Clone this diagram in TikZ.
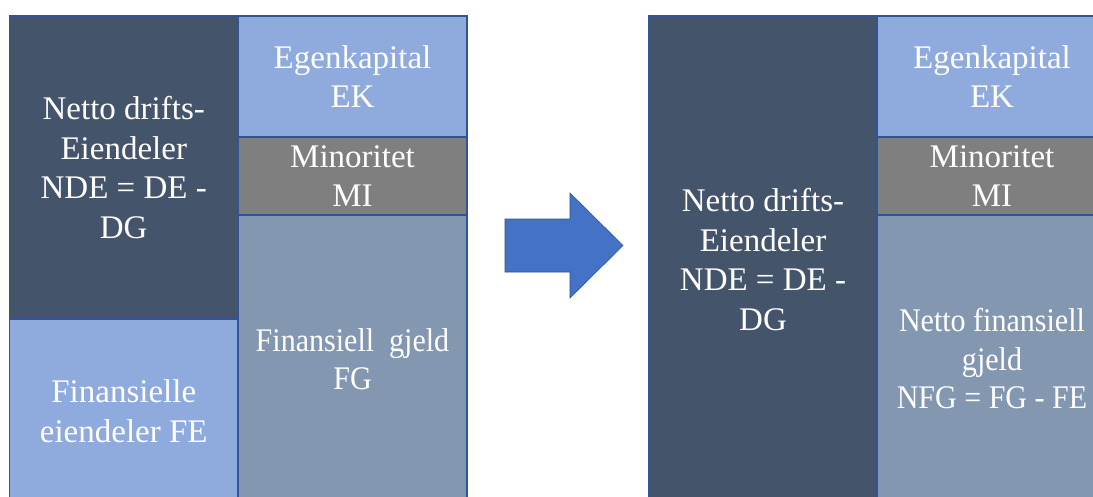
\documentclass[tikz,border=0pt]{standalone}
\usepackage{fontspec}
\setmainfont{Liberation Serif}
\newfontfamily\narrowserif[FakeStretch=0.91]{Liberation Serif}
\definecolor{darkslate}{HTML}{44546A}
\definecolor{paleblue}{HTML}{8FAADC}
\definecolor{midgray}{HTML}{7F7F7F}
\definecolor{steel}{HTML}{8497B0}
\definecolor{edgeblue}{HTML}{2F5597}
\definecolor{arrowfill}{HTML}{4472C4}
\definecolor{arrowedge}{HTML}{2F528F}
\tikzset{
  block/.style={draw=edgeblue, line width=1.3pt, inner sep=0pt, outer sep=0pt,
    anchor=north west, align=center, text=white,
    font=\fontsize{33}{39.5}\selectfont},
  narrowtext/.style={font=\narrowserif\fontsize{33}{38.5}\selectfont},
}
\begin{document}
\begin{tikzpicture}[x=1pt,y=-1pt]
\useasboundingbox (0,0) rectangle (1093,496);
\clip (0,0) rectangle (1093,496);
\fill[white] (0,0) rectangle (1093,496);

% balance sheet before netting
\node[block, fill=darkslate, minimum width=228.5pt, minimum height=303pt] (nde1) at (9.5,16)
  {Netto drifts-\\Eiendeler\\NDE = DE -\\DG};
\node[block, fill=paleblue, minimum width=228.5pt, minimum height=184pt] (fe1) at (9.5,319)
  {Finansielle\\eiendeler FE};
\node[block, fill=paleblue, minimum width=229pt, minimum height=121pt] (ek1) at (238,16)
  {Egenkapital\\EK};
\node[block, fill=midgray, minimum width=229pt, minimum height=78pt] (mi1) at (238,137)
  {Minoritet\\MI};
\node[block, narrowtext, fill=steel, minimum width=229pt, minimum height=288pt] (fg1) at (238,215)
  {Finansiell~~gjeld\\FG};

% block arrow between the two views
\filldraw[fill=arrowfill, draw=arrowedge, line width=0.6pt]
  (505,219) -- (570,219) -- (570,193) -- (623,245.5) -- (570,298) -- (570,272) -- (505,272) -- cycle;

% balance sheet after netting
\node[block, fill=darkslate, minimum width=228pt, minimum height=487pt] (nde2) at (649,16)
  {Netto drifts-\\Eiendeler\\NDE = DE -\\DG};
\node[block, fill=paleblue, minimum width=230pt, minimum height=121pt] (ek2) at (877,16)
  {Egenkapital\\EK};
\node[block, fill=midgray, minimum width=230pt, minimum height=78pt] (mi2) at (877,137)
  {Minoritet\\MI};
\node[block, narrowtext, fill=steel, minimum width=230pt, minimum height=288pt] (nfg2) at (877,215)
  {Netto finansiell\\gjeld\\NFG = FG - FE};
\end{tikzpicture}
\end{document}
